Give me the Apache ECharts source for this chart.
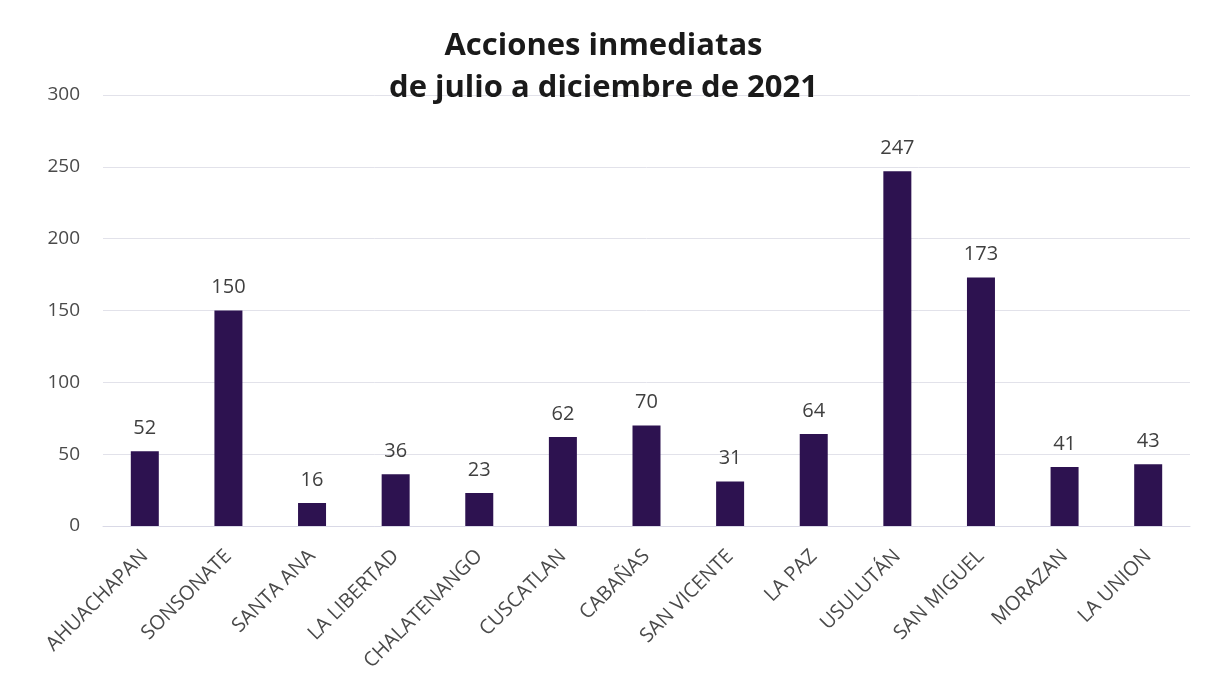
<!DOCTYPE html>
<html>
<head>
<meta charset="utf-8">
<script src="https://cdn.jsdelivr.net/npm/echarts@6/dist/echarts.min.js"></script>
<style>html,body{margin:0;padding:0;background:#fff}#c{width:1207px;height:696px}</style>
</head>
<body>
<div id="c"></div>
<script>
const categories = ["AHUACHAPAN","SONSONATE","SANTA ANA","LA LIBERTAD","CHALATENANGO","CUSCATLAN","CABAÑAS","SAN VICENTE","LA PAZ","USULUTÁN","SAN MIGUEL","MORAZAN","LA UNION"];
const values = [52,150,16,36,23,62,70,31,64,247,173,41,43];
const yTicks = {min:0, max:300, interval:50};
const titleLines = ["Acciones inmediatas","de julio a diciembre de 2021"];

const chart = echarts.init(document.getElementById('c'));
chart.setOption({
  backgroundColor:'#ffffff',
  title:{
    text: titleLines.join('\n'),
    left: 'center',
    top: 20,
    textStyle:{fontFamily:'Open Sans', fontWeight:'bold', fontSize:31, color:'#1a1a1a', lineHeight:42}
  },
  grid:{left:103, right:17, top:95, bottom:170, containLabel:false},
  xAxis:{
    type:'category',
    data: categories,
    axisTick:{show:false},
    axisLine:{show:true, lineStyle:{color:'#d9d9e6', width:1}},
    axisLabel:{rotate:45, interval:0, fontFamily:'Open Sans', fontSize:20, color:'#4a4a4a', margin:27}
  },
  yAxis:{
    type:'value',
    min: yTicks.min, max: yTicks.max, interval: yTicks.interval,
    axisLine:{show:false}, axisTick:{show:false},
    splitLine:{lineStyle:{color:'#e2e2ea', width:1}},
    axisLabel:{fontFamily:'Open Sans', fontSize:19, color:'#4a4a4a', margin:23}
  },
  series:[{
    type:'bar',
    data: values,
    barWidth: 28,
    itemStyle:{color:'#2d1250'},
    label:{show:true, position:'top', distance:13, fontFamily:'Open Sans', fontSize:20, color:'#404040'}
  }]
});
</script>
</body>
</html>
